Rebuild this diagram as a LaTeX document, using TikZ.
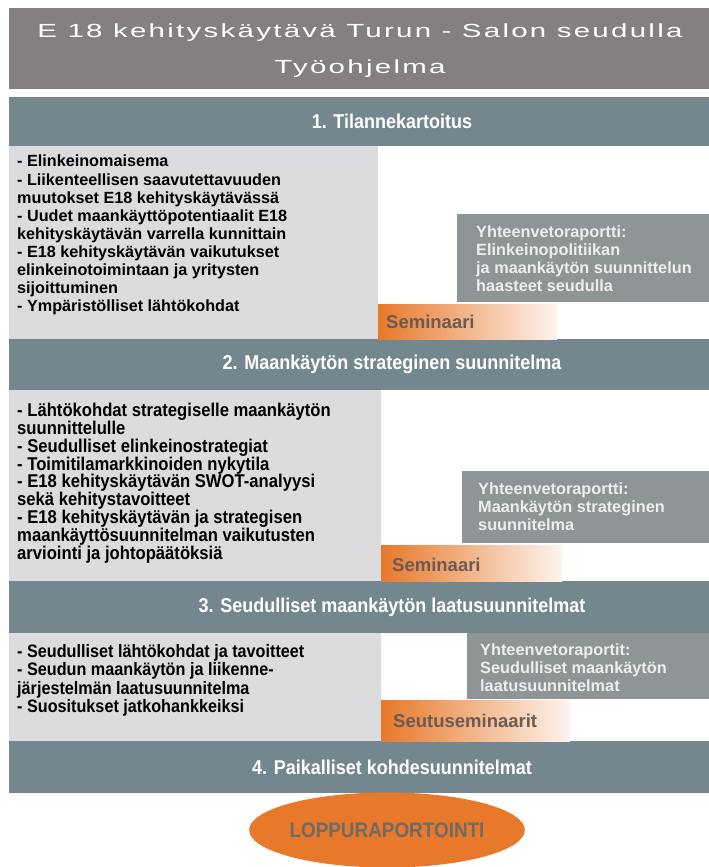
\documentclass[tikz,border=0pt]{standalone}
\usepackage{fontspec}
\setmainfont{Liberation Sans}
\newfontfamily\widefont[FakeStretch=1.55,LetterSpace=12]{Liberation Sans}
\newfontfamily\narrowfont[FakeStretch=0.9]{Liberation Sans}
\usetikzlibrary{shapes.geometric}
\definecolor{headgray}{HTML}{858080}
\definecolor{barslate}{HTML}{74878F}
\definecolor{boxgray}{HTML}{DCDCDF}
\definecolor{sumgray}{HTML}{8F9497}
\definecolor{sumfont}{HTML}{EEEEEE}
\definecolor{semorange}{HTML}{E8782A}
\definecolor{semfont}{HTML}{6B5B52}
\definecolor{endfont}{HTML}{6E6A66}
\begin{document}
\begin{tikzpicture}[x=1pt, y=-1pt,
  headtext/.style={text=white, font=\widefont\fontsize{19}{22}\selectfont},
  bartitle/.style={text=white, font=\narrowfont\bfseries\fontsize{20}{24}\selectfont},
  listtext/.style={anchor=north west, inner sep=0pt, align=left, text=black},
  sumtext/.style={anchor=north west, inner sep=0pt, align=left, text=sumfont, font=\bfseries\fontsize{16.3}{18}\selectfont},
  semtext/.style={anchor=west, inner sep=0pt, text=semfont, font=\bfseries\fontsize{18.5}{20}\selectfont},
  seminar/.style={left color=semorange, middle color=semorange!60, right color=semorange!8}]
  \useasboundingbox (0,0) rectangle (709,867);
  % header
  \fill[headgray] (9,8) rectangle (709,89);
  \node[headtext] (title) at (360,33) {E 18 kehityskäytävä Turun - Salon seudulla};
  \node[headtext] (subtitle) at (360,69) {Työohjelma};
  % phase bars
  \foreach \ya/\yb/\n/\t in {97/146/1/1. Tilannekartoitus, 339/390/2/2. Maankäytön strateginen suunnitelma,
      581/633/3/3. Seudulliset maankäytön laatusuunnitelmat, 741/793/4/4. Paikalliset kohdesuunnitelmat} {
    \fill[barslate] (9,\ya) rectangle (709,\yb);
    \node[bartitle] (phase\n) at (392,{(\ya+\yb)/2}) {\t};
  }
  % task lists
  \foreach \ya/\yb/\xb in {146/339/378, 390/581/381, 633/741/381}
    \fill[boxgray] (9,\ya) rectangle (\xb,\yb);
  \node[listtext, font=\bfseries\fontsize{16.2}{18.1}\selectfont] (list1) at (17,155)
    {- Elinkeinomaisema\\- Liikenteellisen saavutettavuuden\\muutokset E18 kehityskäytävässä\\
     - Uudet maankäyttöpotentiaalit E18\\kehityskäytävän varrella kunnittain\\
     - E18 kehityskäytävän vaikutukset\\elinkeinotoimintaan ja yritysten\\sijoittuminen\\
     - Ympäristölliset lähtökohdat};
  \node[listtext, font=\narrowfont\bfseries\fontsize{18.5}{17.8}\selectfont] (list2) at (17,403)
    {- Lähtökohdat strategiselle maankäytön\\suunnittelulle\\- Seudulliset elinkeinostrategiat\\
     - Toimitilamarkkinoiden nykytila\\- E18 kehityskäytävän SWOT-analyysi\\sekä kehitystavoitteet\\
     - E18 kehityskäytävän ja strategisen\\maankäyttösuunnitelman vaikutusten\\arviointi ja johtopäätöksiä};
  \node[listtext, font=\narrowfont\bfseries\fontsize{18}{18.5}\selectfont] (list3) at (17,644)
    {- Seudulliset lähtökohdat ja tavoitteet\\- Seudun maankäytön ja liikenne-\\
     järjestelmän laatusuunnitelma\\- Suositukset jatkohankkeiksi};
  % summary reports
  \fill[sumgray] (457,214) rectangle (709,302);
  \fill[sumgray] (462,471) rectangle (709,543);
  \fill[sumgray] (467,633) rectangle (709,699);
  \node[sumtext] (sum1) at (476,225)
    {Yhteenvetoraportti:\\Elinkeinopolitiikan\\ja maankäytön suunnittelun\\haasteet seudulla};
  \node[sumtext] (sum2) at (478,482)
    {Yhteenvetoraportti:\\Maankäytön strateginen\\suunnitelma};
  \node[sumtext] (sum3) at (480,643)
    {Yhteenvetoraportit:\\Seudulliset maankäytön\\laatusuunnitelmat};
  % seminars
  \shade[seminar] (378,304) rectangle (557,339);
  \shade[seminar] (381,545) rectangle (562,581);
  \shade[seminar] (381,700) rectangle (570,741);
  \node[semtext] (sem1) at (386,322) {Seminaari};
  \node[semtext] (sem2) at (392,565) {Seminaari};
  \node[semtext] (sem3) at (393,721) {Seutuseminaarit};
  % final report
  \node[ellipse, fill=semorange, minimum width=242pt, minimum height=75pt, inner sep=0pt,
    text=endfont, font=\narrowfont\bfseries\fontsize{21}{24}\selectfont] (final) at (387,830) {LOPPURAPORTOINTI};
\end{tikzpicture}
\end{document}
